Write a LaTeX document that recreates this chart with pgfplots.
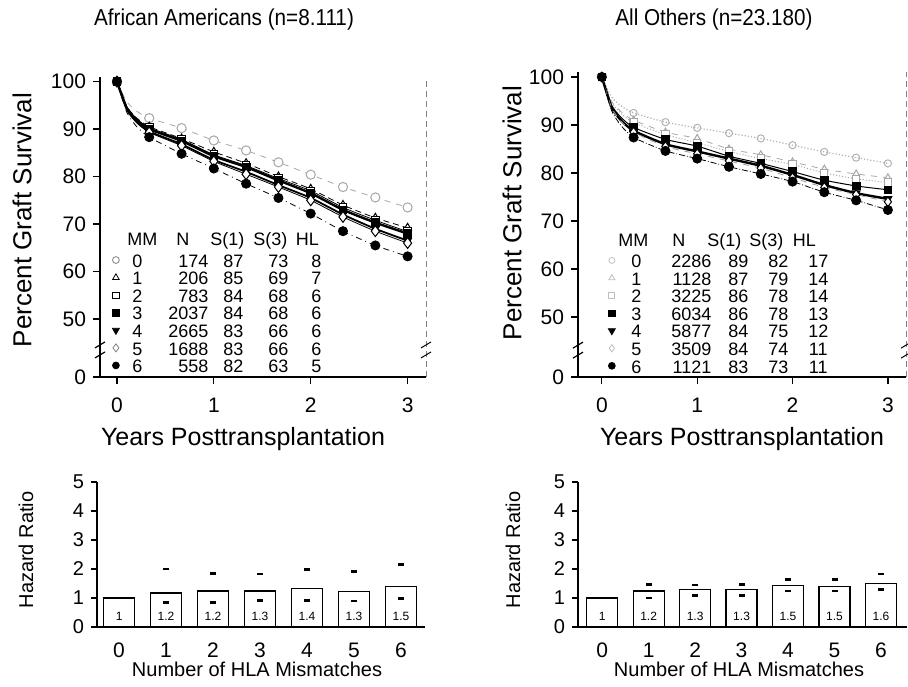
\documentclass[border=0pt]{standalone}
\usepackage{fontspec}
\setmainfont{Liberation Sans}
\usepackage{graphicx}
\usepackage{pgfplots}
\usepackage{pgfplotstable}
\pgfplotsset{compat=1.18}
\newcommand{\fs}[1]{\fontsize{#1}{#1}\selectfont}

\pgfplotstableread{
t     s0    s1    s2    s3    s4    s5    s6
0     100   100   100   100   100   100   100
0.1   95.8  94.8  94.7  94.5  94.2  94.1  93.6
0.2   93.8  92.4  92.2  92.0  91.6  91.4  90.6
0.333 92.3  90.5  90.3  90.0  89.5  89.3  88.3
0.667 90.2  88.0  87.8  87.5  86.8  86.5  84.8
1     87.6  85.2  84.6  84.3  83.5  83.2  81.7
1.333 85.5  82.8  82.3  82.0  81.0  80.5  78.5
1.667 83.0  80.0  79.6  79.2  78.2  77.8  75.5
2     80.4  77.4  77.0  76.5  75.5  75.0  72.2
2.333 77.8  74.0  73.5  73.0  72.0  71.5  68.5
2.667 75.6  71.3  70.8  70.3  69.0  68.5  65.5
3     73.5  69.2  68.4  68.0  66.5  66.0  63.2
}\tabL

\pgfplotstableread{
t     s0    s1    s2    s3    s4    s5    s6
0     100   100   100   100   100   100   100
0.1   95.9  95.0  94.8  94.2  93.8  93.7  93.1
0.2   94.0  92.8  92.4  91.6  91.0  90.8  89.9
0.333 92.5  91.0  90.5  89.5  88.8  88.5  87.4
0.667 90.6  88.5  88.0  87.0  86.0  85.5  84.6
1     89.4  87.2  86.3  85.6  84.5  84.0  83.0
1.333 88.3  85.0  84.5  83.5  83.0  82.5  81.3
1.667 87.2  83.8  83.0  82.0  81.5  81.0  79.8
2     85.8  82.3  81.8  80.3  79.6  79.0  78.2
2.333 84.4  80.8  80.0  78.5  77.5  77.0  76.0
2.667 83.2  79.8  78.8  77.3  75.8  75.5  74.3
3     82.0  79.0  78.0  76.5  74.6  74.0  72.3
}\tabR

\newcommand{\Lrow}[5]{\rule[-2.5pt]{0pt}{8pt}\makebox[10pt][c]{#1}\makebox[30.5pt][r]{#2}\makebox[17.5pt][r]{#3}\makebox[22.5pt][r]{#4}\makebox[28pt][c]{#5}}
\newcommand{\Lhead}{\rule[-4.5pt]{0pt}{10pt}\makebox[15pt][c]{MM}\makebox[16pt][r]{N}\makebox[27.5pt][r]{S(1)}\makebox[21.5pt][r]{S(3)}\makebox[20pt][c]{HL}}
\newcommand{\Rrow}[5]{\rule[-2.5pt]{0pt}{8pt}\makebox[13pt][c]{#1}\makebox[31pt][r]{#2}\makebox[18.5pt][r]{#3}\makebox[20pt][r]{#4}\makebox[30pt][c]{#5}}
\newcommand{\Rhead}{\rule[-4.5pt]{0pt}{10pt}\makebox[10pt][c]{MM}\makebox[21pt][r]{N}\makebox[28pt][r]{S(1)}\makebox[21pt][r]{S(3)}\makebox[21pt][c]{HL}}

\pgfplotsset{
 topax/.style={scale only axis, anchor=south west,
   axis x line*=bottom, axis y line*=left, tick align=outside,
   major tick length=3.5pt, clip=false, xtick={0,1,2,3},
   yticklabels={0,50,60,70,80,90,100},
   tick label style={font=\fs{10.5}},
   /pgf/number format/assume math mode=true,
   x axis line style={line width=0.9pt},
   y axis line style={line width=0.6pt},
   tick style={line width=0.6pt, black},
   xticklabel style={yshift=-3.5pt},
   legend image code/.code={\draw[mark repeat=2,mark phase=2,##1] plot coordinates {(0pt,1.7pt) (2pt,1.7pt) (4pt,1.7pt)};},
   legend cell align=left,
   legend style={draw=none, fill=none, inner sep=0pt, outer sep=0pt, row sep=0pt,
     column sep=4pt, anchor=north west, font=\fs{9},
     nodes={inner sep=0pt, text depth=}}},
 botax/.style={scale only axis, anchor=south west, width=164pt, height=72.5pt,
   ymin=0, ymax=5, axis x line*=bottom, axis y line*=left, tick align=outside,
   major tick length=3pt, xtick={0,...,6}, ytick={0,...,5},
   xtick style={draw=none}, ytick style={line width=0.6pt, black},
   x axis line style={line width=1pt}, y axis line style={line width=0.6pt},
   /pgf/number format/assume math mode=true,
   xticklabel style={font=\fs{10.5}, yshift=-1.5pt},
   yticklabel style={font=\fs{10}}},
 ln/.style={no markers, smooth, tension=0.35, forget plot},
 mk/.style={only marks, skip coords between index={1}{3}, mark size=2.3pt, forget plot},
 bars/.style={ybar, bar width=15.5pt, fill=white, draw=black, line width=0.6pt},
 ci/.style={only marks, mark=-, mark size=1.5pt, line width=1.2pt},
 blab/.style={draw=none, mark=none, nodes near coords, point meta=explicit symbolic,
   every node near coord/.append style={anchor=center, font=\fs{6}}},
}

\begin{document}
\begin{tikzpicture}
\path[use as bounding box] (0pt,0pt) rectangle (454pt,343pt);

% ---------- top left ----------
\begin{axis}[topax, at={(50pt,154.5pt)}, width=163pt, height=150pt,
  xmin=-0.175, xmax=3.19, ymin=37.8, ymax=100.96,
  ytick={37.8,50,60,70,80,90,100},
  legend style={at={(axis cs:-0.052,68.2)}}]
\addplot[ln, gray!70, dashed, line width=0.4pt] table[x=t,y=s0]{\tabL};
\addplot[ln, black, densely dashed, line width=0.4pt] table[x=t,y=s1]{\tabL};
\addplot[ln, black, line width=0.4pt] table[x=t,y=s2]{\tabL};
\addplot[ln, black, line width=1.2pt] table[x=t,y=s3]{\tabL};
\addplot[ln, black, line width=0.9pt] table[x=t,y=s4]{\tabL};
\addplot[ln, black, line width=0.4pt] table[x=t,y=s5]{\tabL};
\addplot[ln, black, dashdotted, line width=0.4pt] table[x=t,y=s6]{\tabL};
\addplot[mk, mark=*, mark options={solid, fill=white, draw=gray!70, line width=0.5pt}] table[x=t,y=s0]{\tabL};
\addplot[mk, mark=triangle*, mark options={solid, fill=white, draw=black, line width=0.5pt}] table[x=t,y=s1]{\tabL};
\addplot[mk, mark=square*, mark size=1.9pt, mark options={solid, fill=white, draw=black, line width=0.5pt}] table[x=t,y=s2]{\tabL};
\addplot[mk, mark=square*, mark size=1.9pt, mark options={solid, fill=black}] table[x=t,y=s3]{\tabL};
\addplot[mk, mark=triangle*, mark options={solid, fill=black, rotate=180}] table[x=t,y=s4]{\tabL};
\addplot[mk, mark=diamond*, mark size=2.7pt, mark options={solid, fill=white, draw=black, line width=0.5pt}] table[x=t,y=s5]{\tabL};
\addplot[mk, mark=*, mark options={solid, fill=black}] table[x=t,y=s6]{\tabL};
\addlegendimage{empty legend}\addlegendentry{\Lhead}
\addlegendimage{only marks, mark=o, mark size=1.7pt, gray}\addlegendentry{\Lrow{0}{174}{87}{73}{8}}
\addlegendimage{only marks, mark=triangle, mark size=1.9pt, black}\addlegendentry{\Lrow{1}{206}{85}{69}{7}}
\addlegendimage{only marks, mark=square, mark size=1.6pt, black}\addlegendentry{\Lrow{2}{783}{84}{68}{6}}
\addlegendimage{only marks, mark=square*, mark size=1.6pt, black}\addlegendentry{\Lrow{3}{2037}{84}{68}{6}}
\addlegendimage{only marks, mark=triangle*, mark size=2pt, mark options={rotate=180}, black}\addlegendentry{\Lrow{4}{2665}{83}{66}{6}}
\addlegendimage{only marks, mark=diamond, mark size=2pt, gray}\addlegendentry{\Lrow{5}{1688}{83}{66}{6}}
\addlegendimage{only marks, mark=*, mark size=1.7pt, black}\addlegendentry{\Lrow{6}{558}{82}{63}{5}}
\draw[gray, densely dashed, line width=0.5pt] (rel axis cs:1,0) -- (rel axis cs:1,1);
\draw[white, line width=3pt] (axis cs:-0.175,43.5) ++(0,-3.5pt) -- ++(0,7pt);
\draw[white, line width=3pt] (axis cs:3.19,43.5) ++(0,-3.5pt) -- ++(0,7pt);
\draw[line width=0.6pt] (axis cs:-0.175,43.5) ++(-2.5pt,-4pt) -- ++(5pt,3pt);
\draw[line width=0.6pt] (axis cs:-0.175,43.5) ++(-2.5pt,1pt) -- ++(5pt,3pt);
\draw[line width=0.5pt] (axis cs:3.19,43.5) ++(-2.5pt,-4pt) -- ++(5pt,3pt);
\draw[line width=0.5pt] (axis cs:3.19,43.5) ++(-2.5pt,1pt) -- ++(5pt,3pt);
\end{axis}

% ---------- top right ----------
\begin{axis}[topax, at={(289pt,154.5pt)}, width=164pt, height=152.4pt,
  xmin=-0.25, xmax=3.19, ymin=37.5, ymax=101,
  ytick={37.5,50,60,70,80,90,100},
  legend style={at={(axis cs:0.063,67.5)}}]
\addplot[ln, gray!60, densely dotted, line width=0.6pt] table[x=t,y=s0]{\tabR};
\addplot[ln, gray!70, dashed, line width=0.4pt] table[x=t,y=s1]{\tabR};
\addplot[ln, gray!70, densely dotted, line width=0.5pt] table[x=t,y=s2]{\tabR};
\addplot[ln, black, line width=0.5pt] table[x=t,y=s3]{\tabR};
\addplot[ln, black, line width=1.2pt] table[x=t,y=s4]{\tabR};
\addplot[ln, gray!80, dashed, line width=0.4pt] table[x=t,y=s5]{\tabR};
\addplot[ln, black, densely dashdotted, line width=0.4pt] table[x=t,y=s6]{\tabR};
\addplot[mk, mark=o, mark size=1.8pt, mark options={solid, draw=gray!60, line width=0.5pt}] table[x=t,y=s0]{\tabR};
\addplot[mk, mark=triangle*, mark size=2pt, mark options={solid, fill=white, draw=gray!70, line width=0.5pt}] table[x=t,y=s1]{\tabR};
\addplot[mk, mark=square*, mark size=1.8pt, mark options={solid, fill=white, draw=gray!70, line width=0.5pt}] table[x=t,y=s2]{\tabR};
\addplot[mk, mark=square*, mark size=1.9pt, mark options={solid, fill=black}] table[x=t,y=s3]{\tabR};
\addplot[mk, mark=triangle*, mark options={solid, fill=black, rotate=180}] table[x=t,y=s4]{\tabR};
\addplot[mk, mark=diamond*, mark size=2.4pt, mark options={solid, fill=white, draw=black, line width=0.5pt}] table[x=t,y=s5]{\tabR};
\addplot[mk, mark=*, mark options={solid, fill=black}] table[x=t,y=s6]{\tabR};
\addlegendimage{empty legend}\addlegendentry{\Rhead}
\addlegendimage{only marks, mark=o, mark size=1.5pt, gray!50}\addlegendentry{\Rrow{0}{2286}{89}{82}{17}}
\addlegendimage{only marks, mark=triangle, mark size=1.7pt, gray!50}\addlegendentry{\Rrow{1}{1128}{87}{79}{14}}
\addlegendimage{only marks, mark=square, mark size=1.5pt, gray!50}\addlegendentry{\Rrow{2}{3225}{86}{78}{14}}
\addlegendimage{only marks, mark=square*, mark size=1.6pt, black}\addlegendentry{\Rrow{3}{6034}{86}{78}{13}}
\addlegendimage{only marks, mark=triangle*, mark size=2pt, mark options={rotate=180}, black}\addlegendentry{\Rrow{4}{5877}{84}{75}{12}}
\addlegendimage{only marks, mark=diamond, mark size=1.8pt, gray!50}\addlegendentry{\Rrow{5}{3509}{84}{74}{11}}
\addlegendimage{only marks, mark=*, mark size=1.7pt, black}\addlegendentry{\Rrow{6}{1121}{83}{73}{11}}
\draw[gray, densely dashed, line width=0.5pt] (rel axis cs:1,0) -- (rel axis cs:1,1);
\draw[white, line width=3pt] (axis cs:-0.25,43.1) ++(0,-3.5pt) -- ++(0,7pt);
\draw[white, line width=3pt] (axis cs:3.19,43.1) ++(0,-3.5pt) -- ++(0,7pt);
\draw[line width=0.6pt] (axis cs:-0.25,43.1) ++(-2.5pt,-4pt) -- ++(5pt,3pt);
\draw[line width=0.6pt] (axis cs:-0.25,43.1) ++(-2.5pt,1pt) -- ++(5pt,3pt);
\draw[line width=0.5pt] (axis cs:3.19,43.1) ++(-2.5pt,-4pt) -- ++(5pt,3pt);
\draw[line width=0.5pt] (axis cs:3.19,43.1) ++(-2.5pt,1pt) -- ++(5pt,3pt);
\end{axis}

% ---------- bottom left ----------
\begin{axis}[botax, at={(48.5pt,29.5pt)}, xmin=-0.47, xmax=6.51]
\addplot[bars] coordinates {(0,1.00) (1,1.17) (2,1.24) (3,1.24) (4,1.32) (5,1.23) (6,1.40)};
\addplot[ci] coordinates {(1,2.01) (2,1.84) (3,1.82) (4,1.98) (5,1.92) (6,2.16)
  (1,0.84) (2,0.84) (3,0.91) (4,0.92) (5,0.90) (6,0.98)};
\addplot[blab] coordinates {(0,0.37)[1] (1,0.37)[1.2] (2,0.37)[1.2] (3,0.37)[1.3] (4,0.37)[1.4] (5,0.37)[1.3] (6,0.37)[1.5]};
\end{axis}

% ---------- bottom right ----------
\begin{axis}[botax, at={(289pt,29.5pt)}, width=164.5pt, xmin=-0.52, xmax=6.56]
\addplot[bars] coordinates {(0,1.00) (1,1.24) (2,1.29) (3,1.29) (4,1.44) (5,1.41) (6,1.49)};
\addplot[ci] coordinates {(1,1.47) (2,1.45) (3,1.46) (4,1.64) (5,1.64) (6,1.82)
  (1,1.00) (2,1.09) (3,1.09) (4,1.24) (5,1.24) (6,1.29)};
\addplot[blab] coordinates {(0,0.37)[1] (1,0.37)[1.2] (2,0.37)[1.3] (3,0.37)[1.3] (4,0.37)[1.5] (5,0.37)[1.5] (6,0.37)[1.6]};
\end{axis}

% ---------- texts ----------
\node[font=\fs{11.5}] at (112pt,333pt) {\scalebox{0.9}[1]{African Americans (n=8.111)}};
\node[font=\fs{11.5}] at (357pt,333pt) {\scalebox{0.9}[1]{All Others (n=23.180)}};
\node[font=\fs{13}, rotate=90] at (11pt,233pt) {Percent Graft Survival};
\node[font=\fs{13}, rotate=90] at (256pt,236.5pt) {Percent Graft Survival};
\node[font=\fs{12.5}] at (121.5pt,123.5pt) {Years Posttransplantation};
\node[font=\fs{12.5}] at (371pt,123.5pt) {Years Posttransplantation};
\node[font=\fs{10}, rotate=90] at (13pt,68pt) {Hazard Ratio};
\node[font=\fs{10}, rotate=90] at (256.5pt,68pt) {Hazard Ratio};
\node[font=\fs{10}] at (128.5pt,8.5pt) {Number of HLA Mismatches};
\node[font=\fs{10}] at (369.5pt,8.5pt) {Number of HLA Mismatches};
\end{tikzpicture}
\end{document}
